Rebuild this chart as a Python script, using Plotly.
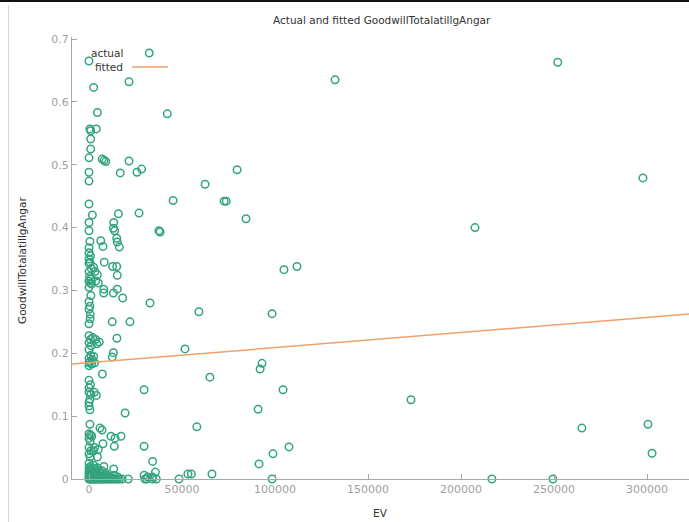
import plotly.graph_objects as go

# Observations: enterprise value (EV) and goodwill share of total assets
ev = [
    # sparse, larger firms
    132300, 252000, 297800, 207500, 79600, 72600, 73800, 84400, 62400, 45200,
    37600, 111800, 104800, 59100, 98400, 32800, 51600, 93000, 92000, 65000,
    29600, 104300, 173100, 90900, 19400, 58000, 265000, 300500, 302700, 107500,
    98900, 91400, 29600, 34200, 35700, 55000, 66100, 48400, 98400, 216600,
    249400,
    # mid-size firms
    21500, 2500, 42100, 4500, 3900, 7100, 8100, 9000, 21500, 16800,
    25800, 28300, 1800, 15800, 26900, 13300, 13100, 13800, 38200, 6300,
    7500, 14900, 15200, 16300, 8200, 12700, 14900, 15200, 2500, 3200,
    4500, 3600, 5000, 7900, 7900, 13100, 15200, 18100, 12500, 22000,
    15000, 2000, 3500, 5500, 4200, 13100, 12500, 2500, 1800, 3000,
    7200, 2800, 4000, 5900, 7000, 7500, 11800, 14000, 17200, 13600,
    13300, 7000, 3000, 5000, 4500, 2500, 8000, 2500, 4500, 13600,
    29600, 31500, 34200, 53200, 2000, 3500, 5000, 6500, 9500, 11000,
    4000, 6000,
    # small firms
    0, 500, 900, 900, 900, 0, 0, 0, 0, 0,
    0, 500, 0, 0, 800, 0, 500, 0, 1200, 0,
    300, 1000, 0, 700, 1300, 0, 1000, 0, 500, 0,
    700, 600, 0, 0, 800, 0, 1200, 0, 1000, 0,
    600, 0, 1400, 0, 0, 800, 0, 0, 1000, 500,
    0, 0, 500, 500, 0, 800, 1500, 0, 600, 0,
    1000, 0, 600, 0, 800, 0, 1500, 0, 700, 0,
    1200, 0,
    # near-zero goodwill
    1000, 2200, 3300, 4800, 5600, 7300, 8800, 10200, 12000, 1600,
    2800, 6200, 9000, 400, 3800, 15500,
    # zero goodwill
    0, 300, 700, 1200, 1800, 2400, 3000, 3700, 4400, 5200,
    6000, 6800, 7600, 8500, 9400, 10300, 11300, 12300, 13100, 14200,
    15300, 16300, 17800, 21100, 30100, 31000, 34200, 36200,
]

goodwill = [
    0.635, 0.663, 0.479, 0.400, 0.492, 0.442, 0.442, 0.414, 0.469, 0.443,
    0.395, 0.338, 0.333, 0.266, 0.263, 0.280, 0.207, 0.184, 0.175, 0.162,
    0.142, 0.142, 0.126, 0.111, 0.105, 0.083, 0.081, 0.087, 0.041, 0.051,
    0.040, 0.024, 0.052, 0.028, 0.011, 0.008, 0.008, 0.0, 0.0, 0.0,
    0.0,
    0.632, 0.623, 0.581, 0.583, 0.557, 0.509, 0.507, 0.505, 0.506, 0.487,
    0.488, 0.493, 0.420, 0.422, 0.423, 0.408, 0.399, 0.395, 0.393, 0.379,
    0.370, 0.383, 0.377, 0.369, 0.345, 0.338, 0.338, 0.324, 0.337, 0.330,
    0.325, 0.315, 0.312, 0.302, 0.296, 0.296, 0.302, 0.288, 0.250, 0.250,
    0.224, 0.225, 0.222, 0.218, 0.215, 0.201, 0.194, 0.195, 0.190, 0.185,
    0.167, 0.138, 0.133, 0.081, 0.078, 0.056, 0.068, 0.065, 0.068, 0.052,
    0.016, 0.013, 0.050, 0.047, 0.035, 0.045, 0.020, 0.022, 0.018, 0.006,
    0.006, 0.003, 0.003, 0.008, 0.010, 0.008, 0.006, 0.004, 0.006, 0.004,
    0.013, 0.012,
    0.665, 0.557, 0.554, 0.541, 0.525, 0.511, 0.488, 0.474, 0.4375, 0.408,
    0.395, 0.378, 0.368, 0.360, 0.355, 0.350, 0.345, 0.343, 0.335, 0.330,
    0.322, 0.318, 0.315, 0.312, 0.310, 0.305, 0.292, 0.282, 0.275, 0.270,
    0.262, 0.255, 0.247, 0.228, 0.222, 0.217, 0.212, 0.206, 0.197, 0.192,
    0.187, 0.185, 0.183, 0.180, 0.157, 0.150, 0.145, 0.138, 0.135, 0.127,
    0.122, 0.116, 0.110, 0.087, 0.072, 0.070, 0.068, 0.065, 0.060, 0.050,
    0.045, 0.040, 0.035, 0.025, 0.020, 0.018, 0.015, 0.012, 0.010, 0.008,
    0.005, 0.003,
    0.004, 0.003, 0.005, 0.002, 0.004, 0.003, 0.002, 0.004, 0.002, 0.008,
    0.011, 0.007, 0.009, 0.015, 0.016, 0.003,
    0.0, 0.0, 0.0, 0.0, 0.0, 0.0, 0.0, 0.0, 0.0, 0.0,
    0.0, 0.0, 0.0, 0.0, 0.0, 0.0, 0.0, 0.0, 0.0, 0.0,
    0.0, 0.0, 0.0, 0.0, 0.0, 0.0, 0.0, 0.0,
]

# Fitted regression line, evaluated at the ends of the EV range
fit_ev = [-9140, 322560]
fit_val = [0.1828, 0.2625]

x_ticks = [0, 50000, 100000, 150000, 200000, 250000, 300000]
y_ticks = [0, 0.1, 0.2, 0.3, 0.4, 0.5, 0.6, 0.7]

GREEN = "#32a47e"
ORANGE = "#f2a06a"
FONT = "DejaVu Sans"

W, H = 689, 522
L, R, T, B = 72, 0, 37, 43
PW, PH = W - L - R, H - T - B


def px(x):
    return (x - L) / PW


def py(y):
    return (H - B - y) / PH


fig = go.Figure()
fig.add_trace(go.Scatter(
    x=ev, y=goodwill, mode="markers", name="actual",
    marker=dict(symbol="circle-open", size=7.5, color=GREEN,
                line=dict(width=1.5, color=GREEN)),
    cliponaxis=False,
))
fig.add_trace(go.Scatter(
    x=fit_ev, y=fit_val, mode="lines", name="fitted",
    line=dict(color=ORANGE, width=1.5),
))

axis_common = dict(
    showgrid=False, zeroline=False, showline=True, linecolor="#a8a8a8",
    linewidth=1, ticks="inside", ticklen=5, tickcolor="#a8a8a8",
    tickfont=dict(family=FONT, size=11, color="#a0a0a0"), automargin=False,
)
fig.update_xaxes(range=[-9140, 322560], tickvals=x_ticks,
                 ticktext=[str(v) for v in x_ticks], **axis_common)
fig.update_yaxes(range=[0, 0.7032], tickvals=y_ticks,
                 ticktext=["0" if v == 0 else f"{v:.1f}" for v in y_ticks],
                 **axis_common)

text_font = dict(family=FONT, size=10.5, color="#333333")
annotations = [
    dict(text="Actual and fitted GoodwillTotalatillgAngar", x=px(382), y=py(20),
         xanchor="center", yanchor="middle"),
    dict(text="EV", x=px(380), y=py(513), xanchor="center", yanchor="middle"),
    dict(text="GoodwillTotalatillgAngar", x=px(22), y=py(261), textangle=-90,
         xanchor="center", yanchor="middle"),
    dict(text="actual", x=px(125), y=py(53), xanchor="right", yanchor="middle"),
    dict(text="fitted", x=px(125), y=py(67), xanchor="right", yanchor="middle"),
]
for a in annotations:
    a.update(xref="paper", yref="paper", showarrow=False, font=text_font)

shapes = [
    # key samples
    dict(type="line", xref="paper", yref="paper", x0=px(132), x1=px(168),
         y0=py(67), y1=py(67), line=dict(color=ORANGE, width=1.5)),
    dict(type="circle", xref="paper", yref="paper", x0=px(145.5), x1=px(153),
         y0=py(56.7), y1=py(49.3), line=dict(color=GREEN, width=1.5)),
    # window frame
    dict(type="line", xref="paper", yref="paper", x0=px(0), x1=px(W),
         y0=py(1), y1=py(1), line=dict(color="#111111", width=2)),
    dict(type="line", xref="paper", yref="paper", x0=px(8.5), x1=px(8.5),
         y0=py(5), y1=py(H), line=dict(color="#d4d4d4", width=1)),
]

fig.update_layout(
    width=W, height=H, margin=dict(l=L, r=R, t=T, b=B, pad=0),
    paper_bgcolor="white", plot_bgcolor="white", showlegend=False,
    annotations=annotations, shapes=shapes,
)

fig.write_html("out.html")
